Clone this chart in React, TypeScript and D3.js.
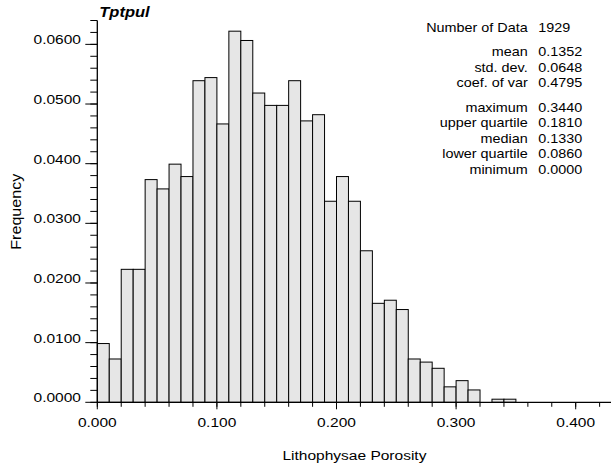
import React from "react";
import * as d3 from "d3";

// Histogram of Lithophysae Porosity, bin width 0.01 starting at 0.000
const binStarts = [
  0.0, 0.01, 0.02, 0.03, 0.04, 0.05, 0.06, 0.07, 0.08, 0.09,
  0.1, 0.11, 0.12, 0.13, 0.14, 0.15, 0.16, 0.17, 0.18, 0.19,
  0.2, 0.21, 0.22, 0.23, 0.24, 0.25, 0.26, 0.27, 0.28, 0.29,
  0.3, 0.31, 0.32, 0.33, 0.34,
];
const binWidth = 0.01;
const frequencies = [
  0.00985, 0.00726, 0.02229, 0.02229, 0.03733, 0.03577, 0.03992, 0.03784, 0.05391, 0.05443,
  0.04666, 0.06221, 0.06065, 0.05184, 0.04977, 0.04977, 0.05391, 0.04717, 0.04821, 0.0337,
  0.03784, 0.0337, 0.0254, 0.01659, 0.01711, 0.01555, 0.00726, 0.00674, 0.0057, 0.00259,
  0.00363, 0.00207, 0.0, 0.00052, 0.00052,
];

const yMajorTicks = [0, 0.01, 0.02, 0.03, 0.04, 0.05, 0.06];
const xMajorTicks = [0, 0.1, 0.2, 0.3, 0.4];

const statLabels = [
  "Number of Data",
  "mean",
  "std. dev.",
  "coef. of var",
  "maximum",
  "upper quartile",
  "median",
  "lower quartile",
  "minimum",
];
const statValues = ["1929", "0.1352", "0.0648", "0.4795", "0.3440", "0.1810", "0.1330", "0.0860", "0.0000"];
const statBaselines = [32, 56, 71.5, 87, 111.5, 127, 142.5, 158, 173.5];

const title = "Tptpul";
const xTitle = "Lithophysae Porosity";
const yTitle = "Frequency";

const FONT = "'Liberation Sans', Arial, Helvetica, sans-serif";
const SX = 1.15;

function T({
  x,
  y,
  size,
  anchor = "start",
  sx = SX,
  rotate = 0,
  weight = "normal",
  italic = false,
  children,
}: any) {
  return (
    <g transform={`translate(${x},${y}) rotate(${rotate}) scale(${sx},1)`}>
      <text
        textAnchor={anchor}
        fontFamily={FONT}
        fontSize={size}
        fontWeight={weight}
        fontStyle={italic ? "italic" : "normal"}
        fill="#000"
      >
        {children}
      </text>
    </g>
  );
}

export default function App() {
  const W = 611;
  const H = 469;
  const x0 = 97.3;
  const pxPerUnit = 1196;
  const x = d3.scaleLinear().domain([0, 0.43]).range([x0, x0 + 0.43 * pxPerUnit]);
  const y = d3.scaleLinear().domain([0, 0.064]).range([402.3, 20.5]);

  const yMinor = d3.range(0, 0.0641, 0.002);
  const xMinor = d3.range(0, 0.4301, 0.02);
  const fmtY = d3.format(".4f");
  const fmtX = d3.format(".3f");

  return (
    <svg
      width={W}
      height={H}
      style={{ position: "absolute", left: 0, top: 0, background: "#fff" }}
    >
      {/* bars */}
      {frequencies.map((f, i) => (
        <rect
          key={i}
          x={x(binStarts[i])}
          y={y(f)}
          width={x(binStarts[i] + binWidth) - x(binStarts[i])}
          height={y(0) - y(f)}
          fill="#e6e6e6"
          stroke="#000"
          strokeWidth={1}
        />
      ))}

      {/* y axis */}
      <line x1={x(0)} x2={x(0)} y1={y(0)} y2={y(0.064)} stroke="#000" strokeWidth={1.3} />
      {yMinor.map((t, i) => (
        <line key={"ym" + i} x1={x(0) - 7} x2={x(0)} y1={y(t)} y2={y(t)} stroke="#000" strokeWidth={1} />
      ))}
      {yMajorTicks.map((t, i) => (
        <g key={"yM" + i}>
          <line x1={x(0) - 12} x2={x(0)} y1={y(t)} y2={y(t)} stroke="#000" strokeWidth={1} />
          <T x={81} y={y(t)} size={13.5} anchor="end">
            {fmtY(t)}
          </T>
        </g>
      ))}

      {/* x axis */}
      <line x1={x(0)} x2={x(0.43)} y1={y(0)} y2={y(0)} stroke="#000" strokeWidth={1.3} />
      {xMinor.map((t, i) => (
        <line key={"xm" + i} x1={x(t)} x2={x(t)} y1={y(0)} y2={y(0) + 4.5} stroke="#000" strokeWidth={1} />
      ))}
      {xMajorTicks.map((t, i) => (
        <g key={"xM" + i}>
          <line x1={x(t)} x2={x(t)} y1={y(0)} y2={y(0) + 7} stroke="#000" strokeWidth={1} />
          <T x={x(t)} y={426.7} size={13.5} anchor="middle">
            {fmtX(t)}
          </T>
        </g>
      ))}

      {/* axis titles */}
      <T x={(x(0) + x(0.43)) / 2} y={460} size={13.5} anchor="middle">
        {xTitle}
      </T>
      <T x={20.7} y={211.7} size={14} anchor="middle" rotate={-90}>
        {yTitle}
      </T>

      {/* chart title */}
      <T x={99.3} y={17.3} size={15} sx={1.1} weight="bold" italic>
        {title}
      </T>

      {/* statistics */}
      {statLabels.map((s, i) => (
        <g key={"s" + i}>
          <T x={527.7} y={statBaselines[i]} size={12.5} anchor="end">
            {s}
          </T>
          <T x={538.3} y={statBaselines[i]} size={12.5} anchor="start">
            {statValues[i]}
          </T>
        </g>
      ))}
    </svg>
  );
}
